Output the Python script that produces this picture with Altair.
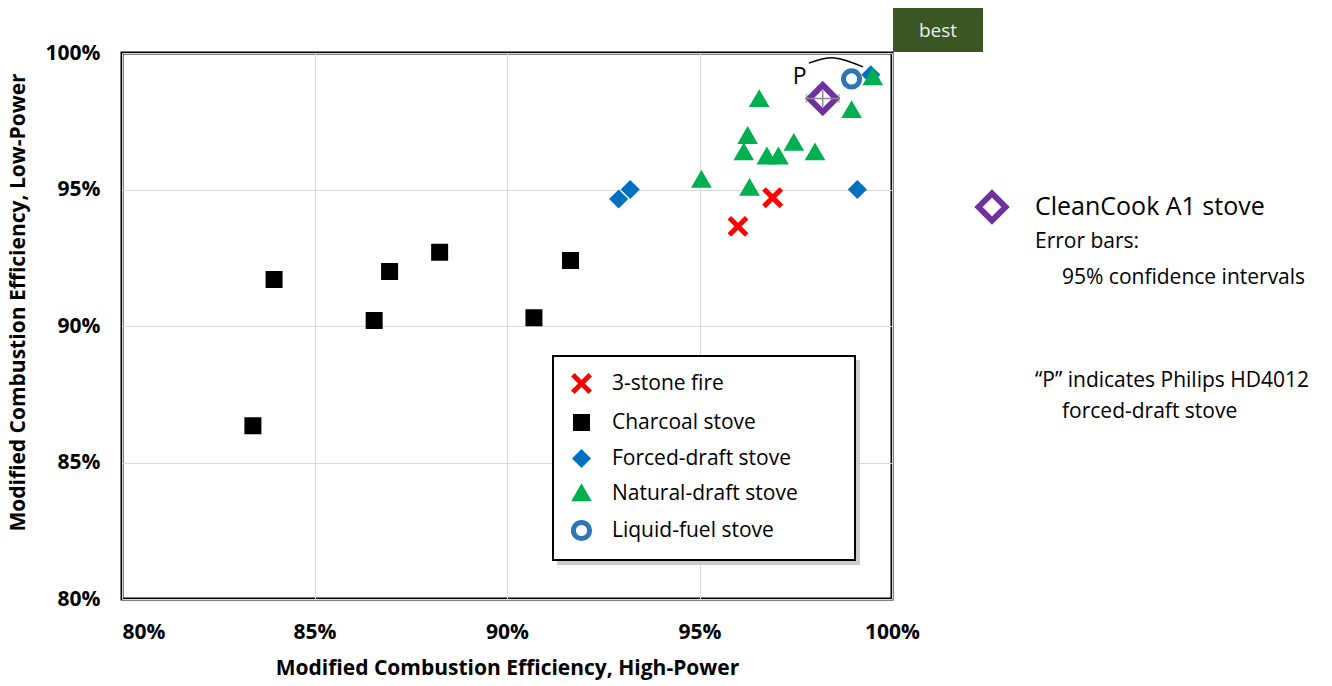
import altair as alt
import pandas as pd

# ---------------- data (percent) ----------------
categories = ["3-stone fire", "Charcoal stove", "Forced-draft stove",
              "Natural-draft stove", "Liquid-fuel stove"]

three_stone_x = [96.0, 96.9]
three_stone_y = [93.65, 94.7]

charcoal_x = [83.4, 83.95, 86.55, 86.95, 88.25, 90.7, 91.65]
charcoal_y = [86.35, 91.7, 90.2, 92.0, 92.7, 90.3, 92.4]

forced_x = [92.9, 93.2, 99.1, 99.45]
forced_y = [94.65, 95.0, 95.0, 99.2]

natural_x = [95.05, 96.3, 96.15, 96.25, 96.75, 97.05, 97.45, 98.0, 96.55, 98.95, 99.5]
natural_y = [95.35, 95.05, 96.35, 96.95, 96.2, 96.2, 96.7, 96.35, 98.3, 97.9, 99.1]

liquid_x = [98.95]
liquid_y = [99.05]

cleancook_x = [98.2]
cleancook_y = [98.33]
cleancook_xerr = [0.42]
cleancook_yerr = [0.3]

philips_label = ["P"]
philips_label_x = [97.6]
philips_label_y = [99.12]
arc_x = [97.84, 98.5, 99.25]
arc_y = [99.63, 99.82, 99.49]

tick_values = [80, 85, 90, 95, 100]

# ---------------- tables ----------------
rows = []
for cat, xs, ys in zip(categories,
                       [three_stone_x, charcoal_x, forced_x, natural_x, liquid_x],
                       [three_stone_y, charcoal_y, forced_y, natural_y, liquid_y]):
    for xv, yv in zip(xs, ys):
        rows.append({"type": cat, "hp": xv, "lp": yv})
df = pd.DataFrame(rows)

cc = pd.DataFrame({
    "hp": cleancook_x, "lp": cleancook_y,
    "hp_lo": [a - e for a, e in zip(cleancook_x, cleancook_xerr)],
    "hp_hi": [a + e for a, e in zip(cleancook_x, cleancook_xerr)],
    "lp_lo": [a - e for a, e in zip(cleancook_y, cleancook_yerr)],
    "lp_hi": [a + e for a, e in zip(cleancook_y, cleancook_yerr)],
})
arc = pd.DataFrame({"hp": arc_x, "lp": arc_y})
plab = pd.DataFrame({"t": philips_label, "hp": philips_label_x, "lp": philips_label_y})

FONT = "Open Sans"
X_PATH = "M-1.45,-1.45L1.45,1.45M1.45,-1.45L-1.45,1.45"
RING_PATH = "M1.35,0A1.35,1.35,0,1,1,-1.35,0A1.35,1.35,0,1,1,1.35,0Z"
shapes = [X_PATH, "square", "diamond", "triangle-up", RING_PATH]
fills = ["#FF0000", "#000000", "#0070C0", "#00B050", "#FFFFFF"]
strokes = ["#FF0000", "#000000", "#0070C0", "#00B050", "#2E75B6"]

xscale = alt.Scale(domain=[80, 100], nice=False, zero=False)
yscale = alt.Scale(domain=[80, 100], nice=False, zero=False)

xaxis = alt.Axis(values=tick_values, labelExpr="datum.value + '%'",
                 title="Modified Combustion Efficiency, High-Power",
                 labelPadding=22,
                 labelAlign={"condition": {"test": "datum.value == 80", "value": "left"}, "value": "center"},
                 titleY=69, titleBaseline="middle")
yaxis = alt.Axis(values=tick_values, labelExpr="datum.value + '%'",
                 title="Modified Combustion Efficiency, Low-Power",
                 labelPadding=22, titleX=-104, titleY=249,
                 titleBaseline="middle", titleAlign="center", titleAngle=-90)

legend = alt.Legend(orient="none", legendX=449, legendY=320, title=None,
                    labelFont=FONT, labelFontSize=21, labelColor="black",
                    labelLimit=400,
                    symbolSize=144, symbolStrokeWidth=5, rowPadding=3,
                    labelOffset=20, padding=0)


def one(value):
    return pd.DataFrame({"t": [value]})


# legend box with shadow
shadow = alt.Chart(one("")).mark_rect(color="#BFBFBF", opacity=0.8).encode(
    x=alt.value(435), x2=alt.value(738), y=alt.value(307), y2=alt.value(512))
box = alt.Chart(one("")).mark_rect(fill="white", stroke="black", strokeWidth=2).encode(
    x=alt.value(431), x2=alt.value(733), y=alt.value(303), y2=alt.value(507))

points = alt.Chart(df).mark_point(filled=False, size=144, strokeWidth=5, opacity=1).encode(
    x=alt.X("hp:Q", scale=xscale, axis=xaxis),
    y=alt.Y("lp:Q", scale=yscale, axis=yaxis),
    shape=alt.Shape("type:N", scale=alt.Scale(domain=categories, range=shapes), legend=legend),
    fill=alt.Fill("type:N", scale=alt.Scale(domain=categories, range=fills), legend=legend),
    stroke=alt.Stroke("type:N", scale=alt.Scale(domain=categories, range=strokes), legend=legend),
)

cc_diamond = alt.Chart(cc).mark_point(shape="diamond", size=729, strokeWidth=6,
                                      color="#7030A0", filled=False, opacity=1).encode(
    x="hp:Q", y="lp:Q")
cc_hbar = alt.Chart(cc).mark_rule(color="#8C8C8C", strokeWidth=1.5).encode(
    x="hp_lo:Q", x2="hp_hi:Q", y="lp:Q")
cc_vbar = alt.Chart(cc).mark_rule(color="#8C8C8C", strokeWidth=1.5).encode(
    y="lp_lo:Q", y2="lp_hi:Q", x="hp:Q")
cc_cap_l = alt.Chart(cc).mark_tick(color="#8C8C8C", orient="vertical", size=9, thickness=1.5).encode(
    x="hp_lo:Q", y="lp:Q")
cc_cap_r = alt.Chart(cc).mark_tick(color="#8C8C8C", orient="vertical", size=9, thickness=1.5).encode(
    x="hp_hi:Q", y="lp:Q")

arc_line = alt.Chart(arc).mark_line(color="black", strokeWidth=1.5, interpolate="natural").encode(
    x="hp:Q", y="lp:Q")
p_text = alt.Chart(plab).mark_text(font=FONT, fontSize=23, color="black").encode(
    x="hp:Q", y="lp:Q", text="t:N")

# "best" box
best_box = alt.Chart(one("")).mark_rect(color="#3A5623").encode(
    x=alt.value(771), x2=alt.value(861), y=alt.value(-45), y2=alt.value(-1))
best_text = alt.Chart(one("best")).mark_text(font=FONT, fontSize=19, color="#EEEEEE").encode(
    x=alt.value(816), y=alt.value(-22), text="t:N")

# right side notes
cc_key = alt.Chart(one("")).mark_point(shape="diamond", size=729, strokeWidth=6,
                                       color="#7030A0", filled=False, opacity=1).encode(
    x=alt.value(870), y=alt.value(154))


def note(text, x, y, size):
    return alt.Chart(one(text)).mark_text(font=FONT, fontSize=size, color="black",
                                          align="left", baseline="middle").encode(
        x=alt.value(x), y=alt.value(y), text="t:N")


notes = [
    note("CleanCook A1 stove", 913, 154, 25),
    note("Error bars:", 913, 189, 21),
    note("95% confidence intervals", 940, 225, 21),
    note("\u201cP\u201d indicates Philips HD4012", 913, 328, 21),
    note("forced-draft stove", 940, 359, 21),
]

chart = alt.layer(
    shadow, box, points, cc_diamond, cc_hbar, cc_vbar, cc_cap_l, cc_cap_r,
    arc_line, p_text, best_box, best_text, cc_key, *notes
).properties(
    width=770, height=546,
    autosize=alt.AutoSizeParams(type="none"),
    padding={"left": 122, "top": 53, "right": 440, "bottom": 87},
).configure_view(
    stroke="black", strokeWidth=3
).configure_axis(
    grid=True, gridColor="#D9D9D9", gridWidth=1, domain=False, ticks=False,
    labelFont=FONT, labelFontWeight="bold", labelFontSize=21, labelColor="black",
    titleFont=FONT, titleFontWeight="bold", titleFontSize=21, titleColor="black",
)

chart.save("out.html", embed_options={"renderer": "svg", "actions": False})
